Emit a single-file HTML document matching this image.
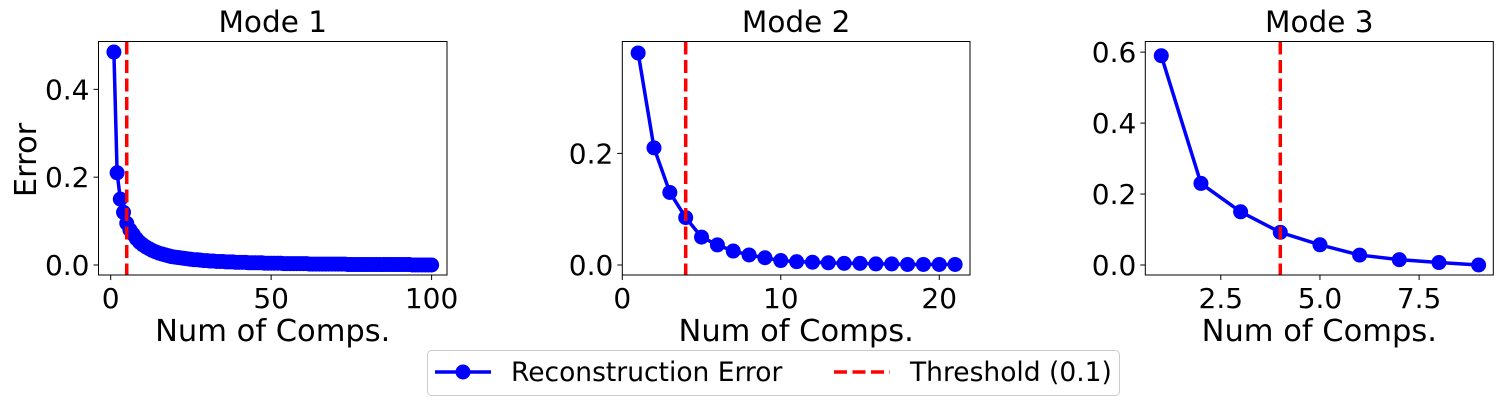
<!DOCTYPE html>
<html><head><meta charset="utf-8"><style>
body{margin:0;background:#fff;}
svg{display:block;font-family:"DejaVu Sans","Liberation Sans",sans-serif;}
</style></head><body>
<svg id="fig" width="1503" height="407" viewBox="0 0 1503 407">
<g id="plots"></g>
<g>
<rect x="427.5" y="350.5" width="692" height="45" rx="4" fill="#fff" stroke="#ccc"/>
<g>
<line x1="435" y1="372" x2="491" y2="372" stroke="#0000ff" stroke-width="3.5"/>
<circle cx="463" cy="372" r="7.5" fill="#0000ff"/>
<text x="511" y="381" font-size="26.5">Reconstruction Error</text></g>
<g>
<line x1="834" y1="372" x2="890" y2="372" stroke="#ff0000" stroke-width="3.5" stroke-dasharray="13,5.5"/>
<text x="910" y="381" font-size="26.5">Threshold (0.1)</text></g>
</g>
</svg>
<script>
const mode1Values=[0.485,0.21,0.15,0.12,0.095,0.08,0.07,0.06,0.052,0.046,0.041,0.037,0.033,0.030,0.027,0.025,0.023,0.021,0.019,0.018,0.017,0.016,0.015,0.014,0.013,0.012,0.012,0.011,0.010,0.010,0.009,0.009,0.008,0.008,0.008,0.007,0.007,0.007,0.006,0.006,0.006,0.006,0.005,0.005,0.005,0.005,0.005,0.004,0.004,0.004,0.004,0.004,0.004,0.003,0.003,0.003,0.003,0.003,0.003,0.003,0.003,0.002,0.002,0.002,0.002,0.002,0.002,0.002,0.002,0.002,0.002,0.002,0.002,0.001,0.001,0.001,0.001,0.001,0.001,0.001,0.001,0.001,0.001,0.001,0.001,0.001,0.001,0.001,0.001,0.001,0.001,0.001,0.001,0.0,0.0,0.0,0.0,0.0,0.0,0.0];
const mode2Values=[0.38,0.21,0.13,0.085,0.05,0.036,0.025,0.018,0.013,0.008,0.006,0.005,0.004,0.003,0.003,0.002,0.002,0.001,0.001,0.001,0.001];
const mode3Values=[0.59,0.23,0.15,0.092,0.057,0.028,0.015,0.007,0.0];
const thresholds=[5,4,4];
const titles=["Mode 1","Mode 2","Mode 3"];
const xTicks=[[0,50,100],[0,10,20],[2.5,5.0,7.5]];
const xTickLabels=[["0","50","100"],["0","10","20"],["2.5","5.0","7.5"]];
const yTicks=[[0,0.2,0.4],[0,0.2],[0,0.2,0.4,0.6]];
const yTickLabels=[["0.0","0.2","0.4"],["0.0","0.2"],["0.0","0.2","0.4","0.6"]];
const series=[mode1Values,mode2Values,mode3Values];
const NS="http://www.w3.org/2000/svg";
const frames=[{l:98.5,r:447,xmin:-3.8,xmax:104.8,ymin:-0.0228,ymax:0.509},
{l:622.3,r:970,xmin:0,xmax:21.94,ymin:-0.0179,ymax:0.4005},
{l:1145.3,r:1493.3,xmin:0.597,xmax:9.37,ymin:-0.0282,ymax:0.630}];
const axTop=41.5,axBot=275;
const g=document.getElementById('plots');
function mk(tag,attrs,parent){const e=document.createElementNS(NS,tag);for(const k in attrs)e.setAttribute(k,attrs[k]);(parent||g).appendChild(e);return e;}
frames.forEach((f,i)=>{
 const sx=v=>f.l+(v-f.xmin)/(f.xmax-f.xmin)*(f.r-f.l);
 const sy=v=>axBot-(v-f.ymin)/(f.ymax-f.ymin)*(axBot-axTop);
 const pg=mk('g',{});
 
 
 const clipId='clip'+i;
 const cp=mk('clipPath',{id:clipId},pg);mk('rect',{x:f.l,y:axTop,width:f.r-f.l,height:axBot-axTop},cp);
 const vals=series[i];
 const pts=vals.map((v,j)=>sx(j+1)+','+sy(v)).join(' ');
 const data=mk('g',{'clip-path':'url(#'+clipId+')'},pg);
 const line=mk('polyline',{points:pts,fill:'none',stroke:'#0000ff','stroke-width':3.5,'stroke-linejoin':'round'},data);
 
 
 vals.forEach((v,j)=>{const c=mk('circle',{cx:sx(j+1),cy:sy(v),r:7.5,fill:'#0000ff'},data);
  
  });
 const th=mk('line',{x1:sx(thresholds[i]),x2:sx(thresholds[i]),y1:axTop,y2:axBot,stroke:'#ff0000','stroke-width':3.5,'stroke-dasharray':'13,5.5'},data);
 
 
 const fr=mk('rect',{x:f.l,y:axTop,width:f.r-f.l,height:axBot-axTop,fill:'none',stroke:'#000','stroke-width':1},pg);
 
 
 xTicks[i].forEach((t,k)=>{const x=sx(t);mk('line',{x1:x,x2:x,y1:axBot,y2:axBot+5,stroke:'#000'},pg);
  const tx=mk('text',{x:x,y:axBot+33,'font-size':28,'text-anchor':'middle'},pg);tx.textContent=xTickLabels[i][k];
  
  });
 yTicks[i].forEach((t,k)=>{const y=sy(t);mk('line',{x1:f.l-5,x2:f.l,y1:y,y2:y,stroke:'#000'},pg);
  const tx=mk('text',{x:f.l-9,y:y+10,'font-size':28,'text-anchor':'end'},pg);tx.textContent=yTickLabels[i][k];
  
  });
 const ti=mk('text',{x:(f.l+f.r)/2,y:32,'font-size':29.5,'text-anchor':'middle'},pg);ti.textContent=titles[i];
 
 
 const xl=mk('text',{x:(f.l+f.r)/2,y:341,'font-size':30.5,'text-anchor':'middle'},pg);xl.textContent='Num of Comps.';
 
 
});
const yl=mk('text',{x:0,y:0,'font-size':30.5,'text-anchor':'middle',transform:'translate(36,160) rotate(-90)'});
yl.textContent='Error';


</script>
</body></html>
